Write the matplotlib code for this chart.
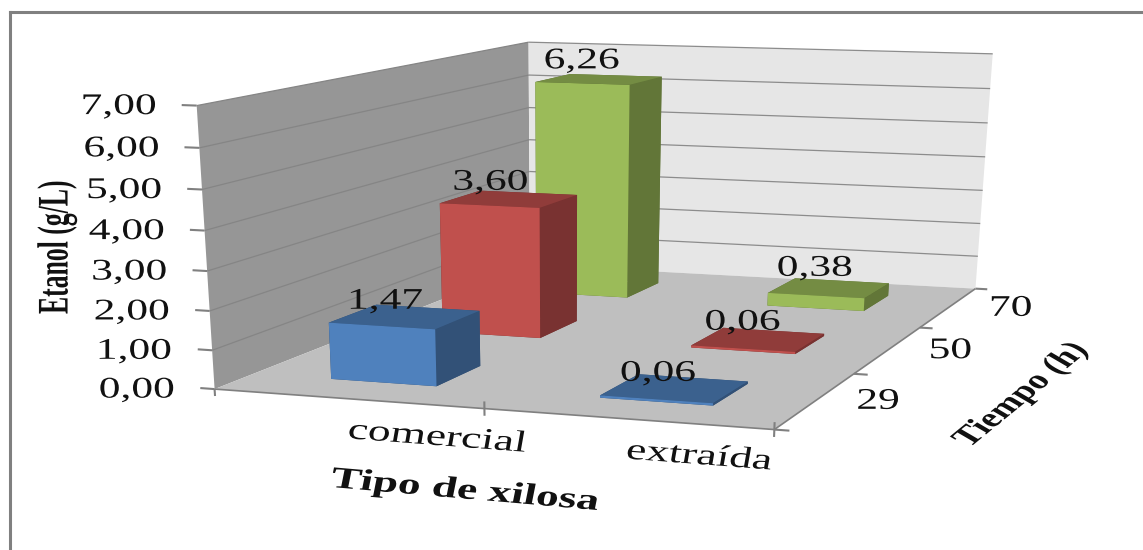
import numpy as np
import matplotlib
matplotlib.use("Agg")
import matplotlib.pyplot as plt
import matplotlib.patheffects as pe
from matplotlib.colors import to_rgb
from matplotlib.lines import Line2D
from matplotlib.transforms import Affine2D
from mpl_toolkits.mplot3d.art3d import Poly3DCollection, Line3DCollection

# ---- data ----
categories = ["comercial", "extraída"]
series_hours = ["29", "50", "70"]
etanol_29h = [1.47, 0.06]
etanol_50h = [3.60, 0.06]
etanol_70h = [6.26, 0.38]
z_ticks = [0, 1, 2, 3, 4, 5, 6, 7]
series_colors = ["#4F81BD", "#C0504D", "#9BBB59"]

WIDTH, HEIGHT = 1143, 550
BAR_START, BAR_SIZE = 0.3, 0.4
X_MAX, Y_MAX, Z_MAX = len(categories), len(series_hours), z_ticks[-1]
SERIF = "Liberation Serif"
GREY = "#808080"


class Stretched(pe.AbstractPathEffect):
    """Widen glyphs horizontally around their centre."""

    def __init__(self, sx=1.45):
        super().__init__()
        self.sx = sx

    def draw_path(self, renderer, gc, tpath, affine, rgbFace=None):
        box = tpath.get_extents(affine)
        cx = box.x0 + box.width / 2
        wide = affine + Affine2D().translate(-cx, 0).scale(self.sx, 1).translate(cx, 0)
        renderer.draw_path(gc, tpath, wide, rgbFace)


fig = plt.figure(figsize=(WIDTH / 100, HEIGHT / 100), dpi=100, facecolor="white")
ax = fig.add_axes([0, 0, 1, 1], projection="3d", computed_zorder=False)
ax.set_axis_off()
ax.patch.set_alpha(0)
ax.apply_aspect = lambda position=None: None

# Camera solved from where the box corners and axis ticks sit on the canvas.
anchors = [
    ((0, 0, 0), (214.5, 388)), ((1, 0, 0), (485, 408)), ((2, 0, 0), (774, 431)),
    ((2, 1, 0), (854, 374)), ((2, 2, 0), (920, 327)), ((2, 3, 0), (975.5, 288)),
    ((0, 3, 0), (529.5, 266)), ((0, 0, 7), (196.4, 106)),
    ((0, 3, 7), (529, 41.7)), ((2, 3, 7), (992.5, 54)),
]
rows = []
for (x, y, z), (u, v) in anchors:
    rows.append([x, y, z, 1, 0, 0, 0, 0, -u * x, -u * y, -u * z, -u])
    rows.append([0, 0, 0, 0, x, y, z, 1, -v * x, -v * y, -v * z, -v])
P = np.linalg.svd(np.array(rows))[2][-1].reshape(3, 4)
P = P / (P[2] @ np.array([1, 1.5, 3.5, 1]))

lim = ax.viewLim.frozen()
to_view = np.array([
    [lim.width / WIDTH, 0, lim.x0],
    [0, -lim.height / HEIGHT, lim.y1],
    [0, 0, 1],
])
P_view = to_view @ P
camera = np.array([P_view[0], P_view[1], [-0.3, 1.0, -0.1, 0.0], P_view[2]])
ax.get_proj = lambda: camera


def to_canvas(x, y, z):
    u, v, w = P @ np.array([x, y, z, 1.0])
    return u / w, v / w


def wall(corners, color):
    ax.add_collection3d(Poly3DCollection([corners], facecolors=color,
                                         edgecolors="none", zorder=0.5))


def segments(parts, color, width):
    ax.add_collection3d(Line3DCollection(parts, colors=color, linewidths=width, zorder=4))


wall([(0, 0, 0), (0, Y_MAX, 0), (0, Y_MAX, Z_MAX), (0, 0, Z_MAX)], "#969696")
wall([(0, Y_MAX, 0), (X_MAX, Y_MAX, 0), (X_MAX, Y_MAX, Z_MAX), (0, Y_MAX, Z_MAX)], "#E6E6E6")
wall([(0, 0, 0), (X_MAX, 0, 0), (X_MAX, Y_MAX, 0), (0, Y_MAX, 0)], "#BFBFBF")

# Value gridlines across both walls
segments([[(0, 0, v), (0, Y_MAX, v)] for v in z_ticks[1:]], "#858585", 0.9)
segments([[(0, Y_MAX, v), (X_MAX, Y_MAX, v)] for v in z_ticks[1:]], "#8C8C8C", 0.9)

# Axis lines and tick marks
segments([[(0, 0, 0), (X_MAX, 0, 0)], [(X_MAX, 0, 0), (X_MAX, Y_MAX, 0)]], GREY, 1.2)
segments([[(-0.055, 0, v), (0, 0, v)] for v in z_ticks], GREY, 1.5)
segments([[(i, 0, 0.0 if i == 0 else 0.18), (i, 0, -0.18)] for i in range(X_MAX + 1)], GREY, 1.5)
segments([[(X_MAX, j, 0), (X_MAX + 0.05, j, 0)] for j in range(Y_MAX + 1)], GREY, 1.5)


def shade(color, factor):
    return tuple(c * factor for c in to_rgb(color))


def flat_text(px, py, text, rotation=0, size=21.6, weight="normal", sx=1.45):
    fig.text(px / WIDTH, 1 - py / HEIGHT, text, family=SERIF, fontsize=size,
             fontweight=weight, rotation=rotation, color="#111111",
             ha="center", va="center", rotation_mode="anchor",
             path_effects=[Stretched(sx=sx)])


def comma(value):
    return f"{value:.2f}".replace(".", ",")


# Bars go back to front so nearer ones cover farther ones
all_series = [etanol_29h, etanol_50h, etanol_70h]
for j in reversed(range(Y_MAX)):
    base = series_colors[j]
    for i, value in enumerate(all_series[j]):
        faces = [shade(base, 0.6), shade(base, 0.75), base,
                 shade(base, 0.6), shade(base, 0.6), shade(base, 0.63)]
        ax.bar3d(i + BAR_START, j + BAR_START, 0, BAR_SIZE, BAR_SIZE, value,
                 color=faces, shade=False, linewidth=0, zorder=5 + (Y_MAX - j))
        u, v = to_canvas(i + 0.5, j + BAR_START + BAR_SIZE, value)
        flat_text(u - 42 + 7 * i + 4 * j, v - 6 + 2 * i - 4 * j, comma(value))

for tick in z_ticks:
    u, v = to_canvas(0, 0, tick)
    flat_text(u - 78, v + 1.5, comma(tick))
for j, hours in enumerate(series_hours):
    u, v = to_canvas(X_MAX, j + 0.5, 0)
    flat_text(u + 62, v + 1.5, hours)

flat_text(437, 438, categories[0], -6.6, sx=1.52)
flat_text(699, 457, categories[1], -6.6, sx=1.52)
flat_text(465, 491, "Tipo de xilosa", -7.5, weight="bold", sx=1.52)
flat_text(57, 247, "Etanol (g/L)", 90, size=18.5, weight="bold", sx=1.7)
flat_text(1021, 395, "Tiempo (h)", 49.8, size=19.5, weight="bold")

# Chart-area border along the top and left edges
border = dict(color=GREY, lw=2.2, transform=None, solid_capstyle="projecting")
fig.add_artist(Line2D([10, WIDTH], [HEIGHT - 12, HEIGHT - 12], **border))
fig.add_artist(Line2D([10, 10], [0, HEIGHT - 12], **border))

fig.savefig("out.png", dpi=100)
